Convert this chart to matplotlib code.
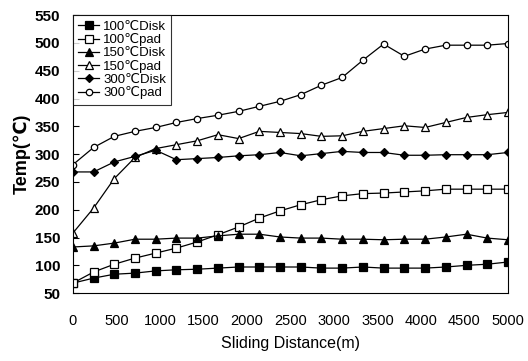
import matplotlib.pyplot as plt

plt.rcParams['font.family'] = ['Liberation Sans', 'DejaVu Sans']

distance = [0, 238, 476, 714, 952, 1190, 1429, 1667, 1905, 2143, 2381,
            2619, 2857, 3095, 3333, 3571, 3810, 4048, 4286, 4524, 4762, 5000]

disk_100 = [68, 77, 84, 86, 90, 92, 93, 95, 97, 97, 97,
            97, 95, 95, 97, 95, 95, 95, 97, 100, 102, 106]
pad_100 = [68, 88, 102, 113, 122, 131, 142, 155, 169, 185, 198,
           209, 218, 225, 229, 230, 232, 234, 237, 237, 237, 237]
disk_150 = [133, 135, 140, 147, 147, 149, 149, 153, 156, 156, 151,
            149, 149, 147, 147, 146, 147, 147, 151, 156, 149, 146]
pad_150 = [158, 203, 256, 294, 310, 317, 324, 335, 328, 341, 339,
           337, 332, 333, 341, 346, 351, 348, 357, 366, 371, 375]
disk_300 = [268, 268, 286, 296, 307, 290, 292, 294, 297, 299, 303,
            297, 301, 305, 303, 303, 298, 298, 299, 299, 299, 303]
pad_300 = [281, 312, 332, 341, 348, 357, 364, 370, 377, 386, 395,
           407, 424, 438, 469, 498, 476, 489, 496, 496, 496, 499]

series = [
    ('100℃Disk', disk_100, 's', 'k', 5.2),
    ('100℃pad', pad_100, 's', 'w', 5.6),
    ('150℃Disk', disk_150, '^', 'k', 5.4),
    ('150℃pad', pad_150, '^', 'w', 5.8),
    ('300℃Disk', disk_300, 'D', 'k', 4.0),
    ('300℃pad', pad_300, 'o', 'w', 4.6),
]

fig = plt.figure(figsize=(5.28, 3.61), dpi=100)
ax = fig.add_axes([0.138, 0.188, 0.824, 0.770])

for label, vals, mk, fc, ms in series:
    ax.plot(distance, vals, color='k', lw=0.9, marker=mk, markersize=ms,
            markerfacecolor=fc, markeredgecolor='k', markeredgewidth=0.9,
            label=label)

ax.set_xlim(0, 5000)
ax.set_ylim(50, 550)
ax.set_xticks(range(0, 5001, 500))
ax.set_yticks(range(50, 551, 50))
ax.tick_params(axis='y', direction='in', length=4, pad=9, labelsize=11)
ax.tick_params(axis='x', direction='in', length=0, pad=15, labelsize=10.5)
for t in ax.get_yticklabels():
    t.set_fontweight('bold')

ax.set_ylabel('Temp(℃)', fontsize=13, fontweight='bold', labelpad=3)
ax.set_xlabel('Sliding Distance(m)', fontsize=11.5, labelpad=6)

leg = ax.legend(loc='upper left', fontsize=9.5, frameon=True, fancybox=False,
                edgecolor='k', borderaxespad=0.0, handlelength=1.6,
                handletextpad=0.3, labelspacing=0.05, borderpad=0.4)
leg.get_frame().set_linewidth(0.8)

for sp in ax.spines.values():
    sp.set_linewidth(0.8)

fig.savefig('out.png', dpi=100)
